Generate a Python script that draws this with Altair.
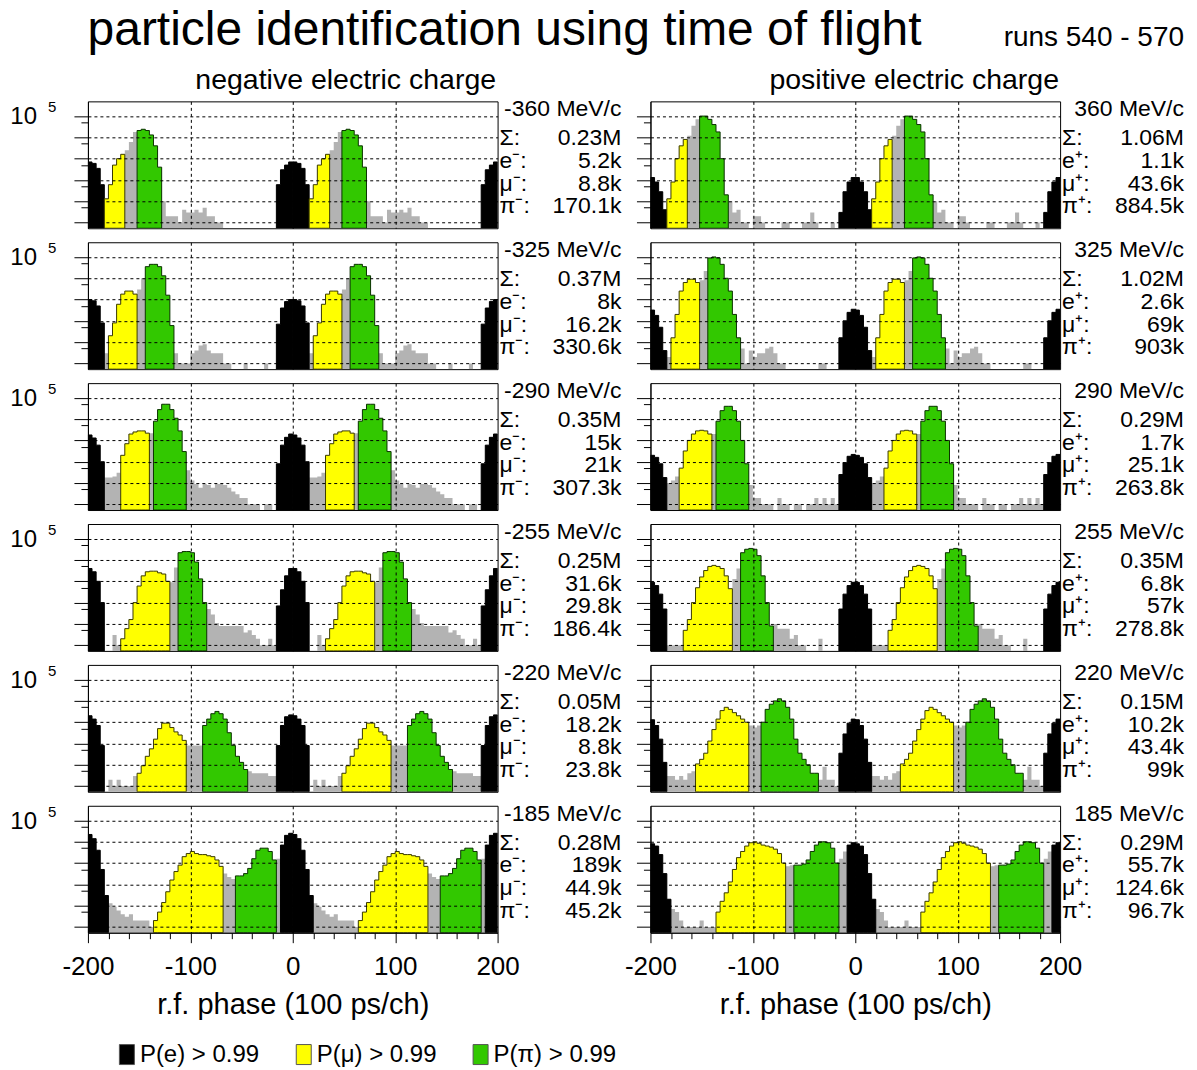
import altair as alt
import pandas as pd

FONT = "Liberation Sans"
BIN_W = 4
PERIOD = 200
BIN_X = list(range(0, PERIOD, BIN_W))   # left edges of the 4-channel bins of one r.f. period

Y_MIN = 0.54
Y_MAX = 4.9e5
Y_TICKS = [1, 5, 10, 50, 100, 500, 1000, 5000, 10000, 50000, 100000]
X_TICKS = list(range(-200, 201, 20))

GRAY = "#b3b3b3"
SPECIES = ["e", "mu", "pi"]
SPECIES_COLORS = ["#000000", "#ffff00", "#32c800"]
SPECIES_STROKES = ["#000000", "#3a3a00", "#0b3300"]

# ---- negative charge: counts per bin (x = 0, 4, ..., 196) -------------------
COUNTS_N360 = [700, 600, 350, 60, 13, 60, 500, 1000, 1600, 2500,
               6000, 18000, 21000, 24000, 21000, 13000, 4000, 400, 10, 2,
               2, 2, 1, 4, 3, 3, 4, 3, 5, 2,
               2, 1, 1, 0, 0, 0, 0, 0, 0, 0,
               0, 0, 0, 0, 0, 0, 60, 300, 500, 700]
COUNTS_N325 = [1000, 870, 500, 80, 3, 20, 80, 600, 1800, 2500,
               2500, 1800, 3000, 10000, 35000, 45000, 45000, 35000, 13000, 1600,
               60, 3, 1, 1, 1, 3, 4, 7, 8, 4,
               3, 3, 3, 1, 1, 0, 0, 0, 1, 0,
               0, 0, 0, 1, 0, 0, 70, 400, 800, 1000]
COUNTS_N290 = [1800, 1300, 600, 100, 18, 18, 20, 30, 200, 700,
               2000, 2500, 2800, 2800, 2200, 2200, 8000, 28000, 50000, 50000,
               28000, 11000, 2800, 300, 40, 13, 9, 6, 9, 8,
               6, 9, 9, 8, 6, 4, 3, 2, 2, 1,
               1, 1, 0, 1, 1, 0, 80, 600, 1400, 2000]
COUNTS_N255 = [4000, 2800, 1000, 100, 0, 0, 3, 1, 2, 6,
               16, 100, 600, 1800, 2800, 3000, 3000, 2500, 2200, 1000,
               900, 4500, 22000, 25000, 25000, 22000, 8000, 1300, 100, 50,
               28, 11, 8, 8, 8, 8, 8, 8, 4, 5,
               3, 2, 1, 1, 2, 1, 70, 400, 1800, 4000]
COUNTS_N220 = [2000, 1400, 700, 80, 0, 2, 1, 2, 1, 1,
               1, 3, 4, 9, 25, 56, 160, 500, 900, 900,
               560, 350, 250, 140, 80, 80, 80, 80, 700, 1400,
               2500, 3200, 2500, 1400, 320, 80, 25, 13, 6, 5,
               4, 4, 4, 4, 3, 3, 80, 700, 1800, 2200]
COUNTS_N185 = [22000, 14000, 4000, 500, 30, 13, 9, 6, 4, 3,
               4, 2, 2, 2, 2, 1, 2, 5, 14, 45,
               160, 400, 800, 2000, 2800, 3500, 2800, 2500, 2500, 2200,
               2000, 1400, 700, 320, 220, 180, 250, 250, 320, 560,
               1600, 4000, 5000, 5000, 3500, 1400, 1600, 7000, 20000, 25000]

# ---- positive charge -----------------------------------------------------------
COUNTS_P360 = [130, 80, 28, 4, 13, 80, 1000, 4000, 8000, 12000,
               35000, 70000, 100000, 100000, 70000, 40000, 18000, 1000, 20, 10,
               3, 4, 1, 1, 0, 2, 2, 1, 0, 0,
               0, 0, 1, 1, 0, 0, 0, 1, 1, 3,
               1, 0, 0, 0, 1, 0, 3, 28, 80, 130]
COUNTS_P325 = [320, 180, 50, 4, 2, 16, 200, 2500, 6300, 9000,
               9000, 6300, 8000, 22000, 90000, 100000, 90000, 45000, 10000, 2500,
               200, 16, 5, 1, 4, 2, 3, 3, 5, 6,
               3, 1, 1, 0, 0, 0, 0, 0, 0, 0,
               0, 1, 1, 0, 0, 0, 16, 100, 250, 350]
COUNTS_P290 = [200, 160, 80, 18, 10, 13, 20, 50, 320, 1000,
               2000, 2800, 3000, 2800, 2000, 2000, 8000, 25000, 40000, 40000,
               25000, 8000, 1000, 80, 8, 2, 2, 1, 1, 1,
               0, 2, 1, 1, 0, 1, 1, 0, 1, 1,
               2, 1, 2, 1, 2, 1, 25, 90, 180, 220]
COUNTS_P255 = [900, 630, 250, 50, 1, 1, 1, 1, 5, 16,
               100, 500, 1600, 3200, 5000, 5600, 5000, 4000, 1800, 450,
               1300, 4000, 22000, 32000, 35000, 32000, 16000, 1800, 100, 8,
               10, 6, 6, 6, 2, 3, 1, 1, 0, 0,
               0, 2, 0, 0, 0, 0, 50, 250, 630, 900]
COUNTS_P220 = [1300, 700, 160, 13, 3, 3, 2, 3, 2, 4,
               5, 11, 18, 35, 130, 450, 1400, 3500, 5000, 4000,
               2800, 2000, 1400, 1000, 700, 560, 700, 1000, 4000, 7000,
               10000, 12500, 10000, 5000, 1400, 160, 35, 18, 10, 4,
               4, 2, 8, 2, 2, 1, 35, 280, 900, 1400]
COUNTS_P185 = [8000, 6300, 2500, 320, 20, 7, 5, 2, 1, 1,
               1, 1, 2, 1, 1, 1, 5, 16, 40, 130,
               500, 1800, 3500, 6300, 9000, 10000, 8500, 7000, 6300, 5600,
               4500, 2800, 1000, 700, 800, 800, 800, 900, 1400, 3500,
               7000, 10000, 10000, 9000, 5000, 1000, 1600, 3500, 7000, 9000]

NEG_COUNTS = [COUNTS_N360, COUNTS_N325, COUNTS_N290, COUNTS_N255, COUNTS_N220, COUNTS_N185]
POS_COUNTS = [COUNTS_P360, COUNTS_P325, COUNTS_P290, COUNTS_P255, COUNTS_P220, COUNTS_P185]

# channel ranges with P > 0.99 (one period)
NEG_E_RANGES = [[(0, 16), (184, 200)]] * 5 + [[(0, 20), (188, 200)]]
NEG_MU_RANGES = [(16, 36), (20, 48), (32, 60), (32, 80), (48, 96), (64, 132)]
NEG_PI_RANGES = [(48, 72), (56, 84), (64, 96), (88, 116), (112, 156), (144, 184)]
POS_E_RANGES = [[(0, 16), (184, 200)]] * 5 + [[(0, 20), (192, 200)]]
POS_MU_RANGES = [(16, 36), (20, 48), (28, 60), (32, 80), (44, 96), (64, 132)]
POS_PI_RANGES = [(48, 76), (56, 88), (64, 96), (88, 120), (108, 164), (140, 184)]

NEG_MOMENTA = ["-360 MeV/c", "-325 MeV/c", "-290 MeV/c", "-255 MeV/c", "-220 MeV/c", "-185 MeV/c"]
NEG_TOTAL = ["0.23M", "0.37M", "0.35M", "0.25M", "0.05M", "0.28M"]
NEG_E = ["5.2k", "8k", "15k", "31.6k", "18.2k", "189k"]
NEG_MU = ["8.8k", "16.2k", "21k", "29.8k", "8.8k", "44.9k"]
NEG_PI = ["170.1k", "330.6k", "307.3k", "186.4k", "23.8k", "45.2k"]
POS_MOMENTA = ["360 MeV/c", "325 MeV/c", "290 MeV/c", "255 MeV/c", "220 MeV/c", "185 MeV/c"]
POS_TOTAL = ["1.06M", "1.02M", "0.29M", "0.35M", "0.15M", "0.29M"]
POS_E = ["1.1k", "2.6k", "1.7k", "6.8k", "10.2k", "55.7k"]
POS_MU = ["43.6k", "69k", "25.1k", "57k", "43.4k", "124.6k"]
POS_PI = ["884.5k", "903k", "263.8k", "278.8k", "99k", "96.7k"]

NEG_LABELS = ["\u03a3:", "e\u207b:", "\u03bc\u207b:", "\u03c0\u207b:"]
POS_LABELS = ["\u03a3:", "e\u207a:", "\u03bc\u207a:", "\u03c0\u207a:"]
LEGEND_LABELS = ["P(e) > 0.99", "P(\u03bc) > 0.99", "P(\u03c0) > 0.99"]

TITLE = "particle identification using time of flight"
RUNS = "runs 540 - 570"
COL_TITLES = ["negative electric charge", "positive electric charge"]
X_TITLE = "r.f. phase (100 ps/ch)"

W, H = 410, 127
ANN_SIZE = 23
LINE_H = 22.7


def panel_table(counts, e_ranges, mu_range, pi_range):
    segs = [("all", 0, PERIOD)] + [("e", a, b) for a, b in e_ranges] + \
           [("mu", mu_range[0], mu_range[1]), ("pi", pi_range[0], pi_range[1])]
    rows = []
    for off in (-PERIOD, 0):
        for k, (sp, lo, hi) in enumerate(segs):
            sel = [(x, c) for x, c in zip(BIN_X, counts) if lo <= x < hi]
            sid = f"{sp}{off}_{k}"
            for x, c in sel:
                rows.append(dict(x=x + off, c=max(c, Y_MIN), base=Y_MIN, sp=sp, seg=sid))
            rows.append(dict(x=hi + off, c=max(sel[-1][1], Y_MIN), base=Y_MIN, sp=sp, seg=sid))
    return pd.DataFrame(rows)


Y_MAJOR = "indexof([1, 10, 100, 1000, 10000, 100000], datum.value) >= 0"


def y_axis():
    return alt.Axis(values=Y_TICKS, labels=False, title=None,
                    tickSize={"condition": {"test": Y_MAJOR, "value": 14}, "value": 7},
                    tickColor="black", tickWidth=1, domain=True, domainColor="black",
                    grid=True, gridColor="black", gridDash=[3, 3], gridWidth=1,
                    gridOpacity={"condition": {"test": Y_MAJOR, "value": 1}, "value": 0},
                    zindex=1)


def x_axis(bottom):
    if not bottom:
        return alt.Axis(values=[-100, 0, 100], labels=False, ticks=False, domain=False,
                        title=None, grid=True, gridColor="black", gridDash=[3, 3],
                        gridWidth=1, zindex=1)
    return alt.Axis(values=X_TICKS, title=X_TITLE, titleFontSize=29, titleFont=FONT,
                    titleFontWeight="normal", titleColor="black", titleY=81,
                    titleBaseline="alphabetic",
                    labelExpr="datum.value % 100 == 0 ? '' + datum.value : ''",
                    labelFontSize=26, labelFont=FONT, labelColor="black",
                    labelFlush=False, labelOverlap=False, labelPadding=11,
                    tickSize={"condition": {"test": "datum.value % 100 == 0", "value": 10}, "value": 6},
                    tickColor="black", domainColor="black",
                    grid=True, gridColor="black", gridDash=[3, 3], gridWidth=1,
                    gridOpacity={"condition": {"test": "datum.value % 100 == 0 && abs(datum.value) < 200",
                                               "value": 1}, "value": 0},
                    zindex=1)


def text_layer(t, x, y, align, size, baseline="middle", line_height=None):
    kw = dict(align=align, baseline=baseline, fontSize=size, font=FONT, color="black", text=t)
    if line_height:
        kw["lineHeight"] = line_height
    return alt.Chart(pd.DataFrame({"k": [0]})).mark_text(**kw).encode(
        x=alt.value(x), y=alt.value(y))


color_enc = alt.Color(
    "sp:N",
    scale=alt.Scale(domain=SPECIES, range=SPECIES_COLORS),
    legend=alt.Legend(
        orient="none", legendX=27, legendY=942, direction="horizontal", title=None,
        symbolType="M-0.75,-1H0.75V1H-0.75Z", symbolSize=400, symbolStrokeColor="#555555",
        symbolStrokeWidth=1, labelFontSize=24, labelFont=FONT, labelColor="black",
        labelOffset=1, columnPadding=32, padding=0,
        labelExpr=f"datum.value == 'e' ? '{LEGEND_LABELS[0]}' : datum.value == 'mu' ? "
                  f"'{LEGEND_LABELS[1]}' : '{LEGEND_LABELS[2]}'"),
)


def panel(counts, e_rng, mu_rng, pi_rng, momentum, total, ve, vmu, vpi, labels, bottom,
          left_col, extra=()):
    df = panel_table(counts, e_rng, mu_rng, pi_rng)
    base = alt.Chart(df).encode(
        x=alt.X("x:Q", scale=alt.Scale(domain=[-200, 200], nice=False, zero=False), axis=x_axis(bottom)),
        y=alt.Y("c:Q", scale=alt.Scale(type="log", domain=[Y_MIN, Y_MAX], nice=False), axis=y_axis()),
        y2="base:Q",
        detail="seg:N",
    )
    layers = [base.transform_filter("datum.sp == 'all'").mark_area(
        interpolate="step-after", color=GRAY, clip=True)]
    for sp, stroke in zip(SPECIES, SPECIES_STROKES):
        layers.append(base.transform_filter(f"datum.sp == '{sp}'").mark_area(
            interpolate="step-after", stroke=stroke, strokeWidth=1, clip=True).encode(color=color_enc))
    if left_col:
        layers += [text_layer("10", -51, 16, "right", 24),
                   text_layer("5", -40, 6, "left", 15)]
    layers += [
        text_layer(momentum, 534, 8, "right", ANN_SIZE),
        text_layer(labels, 412, 37, "left", ANN_SIZE, line_height=LINE_H),
        text_layer([total, ve, vmu, vpi], 534, 37, "right", ANN_SIZE, line_height=LINE_H),
    ]
    layers += list(extra)
    return alt.layer(*layers).properties(width=W, height=H)


header = [
    text_layer(TITLE, 417, -56, "center", 48, baseline="alphabetic"),
    text_layer(RUNS, 1097, -55, "right", 28, baseline="alphabetic"),
    text_layer(COL_TITLES[0], 258, -12, "center", 28.5, baseline="alphabetic"),
    text_layer(COL_TITLES[1], 827, -12, "center", 28.5, baseline="alphabetic"),
]

panels = []
for i in range(6):
    bottom = i == 5
    panels.append(panel(NEG_COUNTS[i], NEG_E_RANGES[i], NEG_MU_RANGES[i], NEG_PI_RANGES[i],
                        NEG_MOMENTA[i], NEG_TOTAL[i], NEG_E[i], NEG_MU[i], NEG_PI[i], NEG_LABELS,
                        bottom, True, header if i == 0 else ()))
    panels.append(panel(POS_COUNTS[i], POS_E_RANGES[i], POS_MU_RANGES[i], POS_PI_RANGES[i],
                        POS_MOMENTA[i], POS_TOTAL[i], POS_E[i], POS_MU[i], POS_PI[i], POS_LABELS,
                        bottom, False))

chart = alt.concat(*panels, columns=2, spacing={"row": 14, "column": 153}, bounds="flush").properties(
    padding={"left": 1, "top": -2, "right": 4, "bottom": 4}, background="white"
).configure(font=FONT).configure_view(stroke="black", strokeWidth=1)

chart.save("out.html", embed_options={"renderer": "svg", "actions": False})
